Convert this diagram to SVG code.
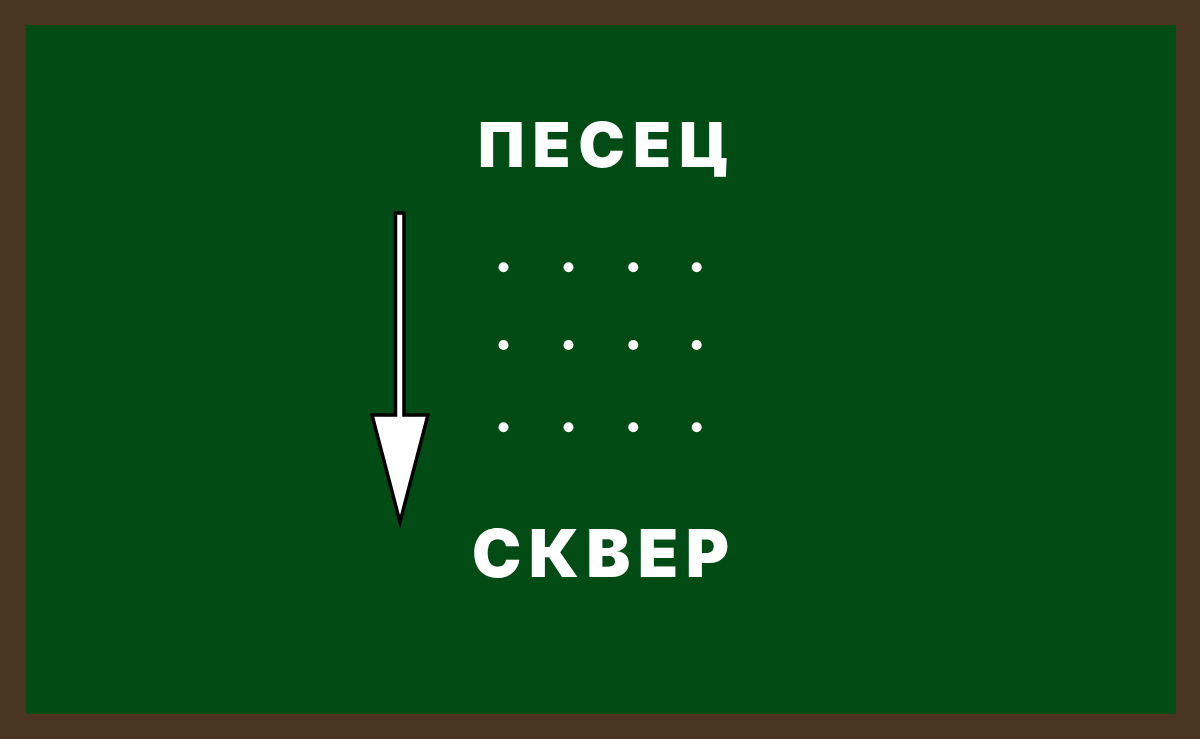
<svg xmlns="http://www.w3.org/2000/svg" width="1200" height="739" viewBox="0 0 1200 739">
<style>
.lbl{font-family:Inter,"Liberation Sans",Arial,sans-serif;font-weight:900;fill:#ffffff}
.dot{fill:#ffffff}
</style>
<rect x="0" y="0" width="1200" height="739" fill="#4a3522"/>
<rect x="26" y="25" width="1150" height="689" fill="#004c14"/>
<g id="node-pesec">
<text class="lbl" x="478" y="167" font-size="62" textLength="251" lengthAdjust="spacing">ПЕСЕЦ</text>
</g>
<g id="node-skver">
<text class="lbl" x="472" y="577" font-size="66" textLength="257" lengthAdjust="spacing">СКВЕР</text>
</g>
<g id="dots">
<circle class="dot" cx="503.5" cy="267.3" r="5"/>
<circle class="dot" cx="568.5" cy="267.3" r="5"/>
<circle class="dot" cx="633.3" cy="267.3" r="5"/>
<circle class="dot" cx="696.7" cy="267.3" r="5"/>
<circle class="dot" cx="503.5" cy="345" r="5"/>
<circle class="dot" cx="568.5" cy="345" r="5"/>
<circle class="dot" cx="633.3" cy="345" r="5"/>
<circle class="dot" cx="696.7" cy="345" r="5"/>
<circle class="dot" cx="503.5" cy="427.3" r="5"/>
<circle class="dot" cx="568.5" cy="427.3" r="5"/>
<circle class="dot" cx="633.3" cy="427.3" r="5"/>
<circle class="dot" cx="696.7" cy="427.3" r="5"/>
</g>
<g id="connectors">
<polygon points="395.5,213 404,213 404,415 428,415 400,522 372,415 395.5,415" fill="#ffffff" stroke="#000000" stroke-width="3.5" stroke-linejoin="miter"/>
</g>
</svg>
